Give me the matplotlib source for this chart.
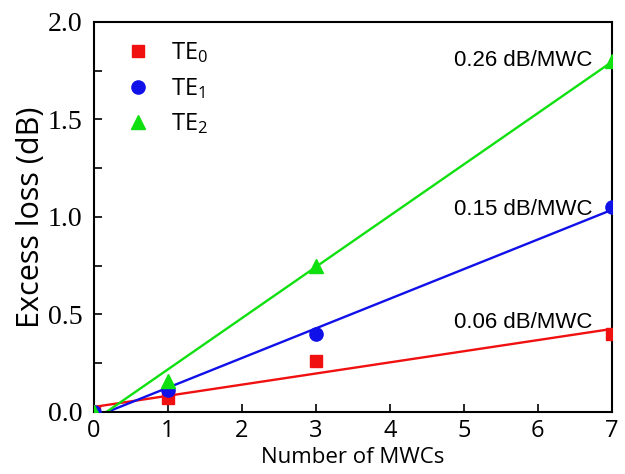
import numpy as np
import matplotlib
matplotlib.use("Agg")
import matplotlib.pyplot as plt
from matplotlib.ticker import MultipleLocator

# du lieu doc tu hinh
n_mwc = [0, 1, 3, 7]
te0 = [0.0, 0.07, 0.26, 0.40]
te1 = [0.0, 0.11, 0.40, 1.05]
te2 = [0.0, 0.16, 0.75, 1.80]
series_names = ["TE$_0$", "TE$_1$", "TE$_2$"]
slope_labels = ["0.06 dB/MWC", "0.15 dB/MWC", "0.26 dB/MWC"]
label_y = [0.456, 1.04, 1.80]

colors = ["#f01010", "#1010e8", "#10e010"]
markers = ["s", "o", "^"]
msizes = [8.5, 9.5, 10]

plt.rcParams["mathtext.fontset"] = "custom"
plt.rcParams["mathtext.rm"] = "Open Sans"
plt.rcParams["mathtext.default"] = "rm"

fig = plt.figure(figsize=(6.25, 4.74), dpi=100)
ax = fig.add_axes([0.150, 0.131, 0.829, 0.823])

x_fit = np.array([0, 7])
for ys, name, c, m, ms in zip([te0, te1, te2], series_names, colors, markers, msizes):
    k, b = np.polyfit(n_mwc, ys, 1)
    ax.plot(x_fit, k * x_fit + b, color=c, lw=1.7, zorder=2)
    ax.plot(n_mwc, ys, linestyle="none", marker=m, color=c, markersize=ms,
            label=name, zorder=3)

# nhan do doc
for txt, yy in zip(slope_labels, label_y):
    ax.text(6.74, yy, txt, ha="right", va="center", fontsize=16, family="Liberation Sans")

ax.set_xlim(0, 7)
ax.set_ylim(0, 2.0)
ax.xaxis.set_major_locator(MultipleLocator(1))
ax.yaxis.set_major_locator(MultipleLocator(0.5))
ax.yaxis.set_minor_locator(MultipleLocator(0.25))
ax.yaxis.set_major_formatter(matplotlib.ticker.FormatStrFormatter("%.1f"))
ax.tick_params(direction="in", length=6, width=1.2, which="both")
ax.tick_params(axis="y", which="major", pad=8, labelsize=20, labelfontfamily="Liberation Serif")
ax.tick_params(axis="x", which="major", pad=5, labelsize=17, labelfontfamily="Open Sans")
for s in ax.spines.values():
    s.set_linewidth(1.5)

ax.set_xlabel("Number of MWCs", family="Open Sans", fontsize=16, labelpad=3)
ax.set_ylabel("Excess loss (dB)", family="Open Sans", fontsize=22, labelpad=1)

leg = ax.legend(loc="upper left", bbox_to_anchor=(0.044, 0.952), frameon=False,
                prop={"family": "Open Sans", "size": 17}, borderpad=0, borderaxespad=0,
                handletextpad=0.5, labelspacing=0.45, numpoints=1, handlelength=1.8)

plt.savefig("out.png", dpi=100)
